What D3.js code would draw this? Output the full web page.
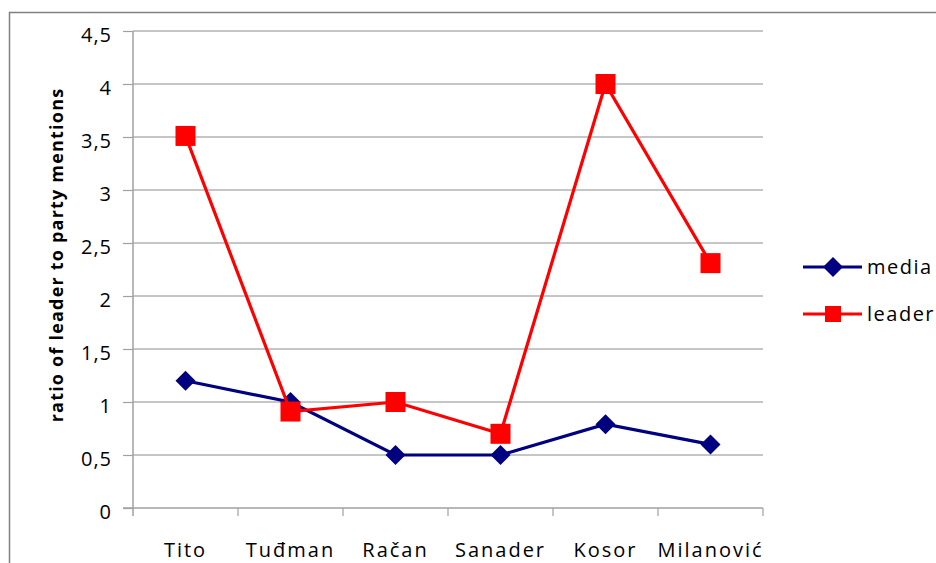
<!DOCTYPE html>
<html><head><meta charset="utf-8">
<script src="https://cdn.jsdelivr.net/npm/d3@7"></script>
<style>
html,body{margin:0;padding:0;background:#fff;}
svg{display:block;font-family:"Open Sans",sans-serif;}
</style></head>
<body>
<svg id="c" width="936" height="563"></svg>
<script>
const categories = ["Tito","Tuđman","Račan","Sanader","Kosor","Milanović"];
const mediaValues = [1.2, 1.0, 0.5, 0.5, 0.79, 0.6];
const leaderValues = [3.51, 0.91, 1.0, 0.7, 4.0, 2.31];
const yTicks = [0,0.5,1,1.5,2,2.5,3,3.5,4,4.5];
const yTickLabels = ["0","0,5","1","1,5","2","2,5","3","3,5","4","4,5"];
const seriesNames = ["media","leader"];

const svg = d3.select("#c");
const pL=133, pR=763, pT=31, pB=508;
const FONT = "'Open Sans',sans-serif";

// outer border
svg.append("path").attr("d","M9.5,570 L9.5,12.5 L940,12.5")
  .attr("fill","none").attr("stroke","#808080").attr("stroke-width",1.5);

const x = d3.scaleBand().domain(categories).range([pL,pR]);
const y = d3.scaleLinear().domain([0,4.5]).range([pB,pT]);

// gridlines
svg.append("g").selectAll("line").data(yTicks.filter(d=>d>0)).join("line")
  .attr("x1",pL).attr("x2",pR).attr("y1",d=>y(d)).attr("y2",d=>y(d))
  .attr("stroke","#8c8c8c").attr("stroke-width",1);

// y axis
const yAxis = d3.axisLeft(y).tickValues(yTicks).tickSize(10).tickPadding(11)
  .tickFormat((d,i)=>yTickLabels[i]);
const ga = svg.append("g").attr("transform",`translate(${pL},0)`).call(yAxis);
ga.select(".domain").attr("stroke","#a0a0a0").attr("stroke-width",1.5)
  .attr("d",`M0,${pT}V${pB}`);
ga.selectAll(".tick line").attr("stroke","#a0a0a0").attr("stroke-width",1.2);
ga.selectAll(".tick text").attr("fill","#000").style("font-size","20px")
  .style("font-family",FONT).style("letter-spacing","1px").attr("dy","0.5em");

// x axis
const gx = svg.append("g").attr("transform",`translate(0,${pB})`);
gx.append("line").attr("x1",pL-10).attr("x2",pR).attr("y1",0).attr("y2",0)
  .attr("stroke","#a0a0a0").attr("stroke-width",1.5);
const bounds = categories.map(c=>x(c)+x.bandwidth());
gx.selectAll("line.tk").data(bounds).join("line").attr("class","tk")
  .attr("x1",d=>d).attr("x2",d=>d).attr("y1",0).attr("y2",8)
  .attr("stroke","#a0a0a0").attr("stroke-width",1.2);
gx.append("line").attr("x1",pL).attr("x2",pL).attr("y1",0).attr("y2",8)
  .attr("stroke","#a0a0a0").attr("stroke-width",1.5);
gx.selectAll("text").data(categories).join("text")
  .attr("x",d=>x(d)+x.bandwidth()/2).attr("y",49)
  .attr("text-anchor","middle").style("font-size","20px").style("letter-spacing","2px")
  .text(d=>d);

// y title
svg.append("text").attr("transform","translate(63,255) rotate(-90)")
  .attr("text-anchor","middle").style("font-size","18px").style("font-weight","bold")
  .style("letter-spacing","1.2px")
  .text("ratio of leader to party mentions");

const cx = d=>x(d)+x.bandwidth()/2;
const line = d3.line().x(d=>cx(d[0])).y(d=>y(d[1]));

function drawDiamond(g, px, py, s){
  g.append("path").attr("d",`M${px},${py-s}L${px+s},${py}L${px},${py+s}L${px-s},${py}Z`)
    .attr("fill","#000080");
}
function drawSquare(g, px, py, s){
  g.append("rect").attr("x",px-s).attr("y",py-s).attr("width",2*s).attr("height",2*s)
    .attr("fill","#ff0000");
}

const media = categories.map((c,i)=>[c,mediaValues[i]]);
const leader = categories.map((c,i)=>[c,leaderValues[i]]);

svg.append("path").attr("d",line(media)).attr("fill","none").attr("stroke","#000080").attr("stroke-width",3.2);
const gm = svg.append("g");
media.forEach(d=>drawDiamond(gm,cx(d[0]),y(d[1]),10));

svg.append("path").attr("d",line(leader)).attr("fill","none").attr("stroke","#ff0000").attr("stroke-width",3.2);
const gl = svg.append("g");
leader.forEach(d=>drawSquare(gl,cx(d[0]),y(d[1]),10));

// legend
const lg = svg.append("g");
const legY = [267, 314];
lg.append("line").attr("x1",803).attr("x2",862).attr("y1",legY[0]).attr("y2",legY[0]).attr("stroke","#000080").attr("stroke-width",3.2);
drawDiamond(lg,833,legY[0],10);
lg.append("line").attr("x1",803).attr("x2",862).attr("y1",legY[1]).attr("y2",legY[1]).attr("stroke","#ff0000").attr("stroke-width",3.2);
drawSquare(lg,833,legY[1],8);
lg.selectAll("text").data(seriesNames).join("text")
  .attr("x",867).attr("y",(d,i)=>legY[i]+7).style("font-size","20px").style("letter-spacing","1.5px")
  .text(d=>d);
</script>
</body></html>
